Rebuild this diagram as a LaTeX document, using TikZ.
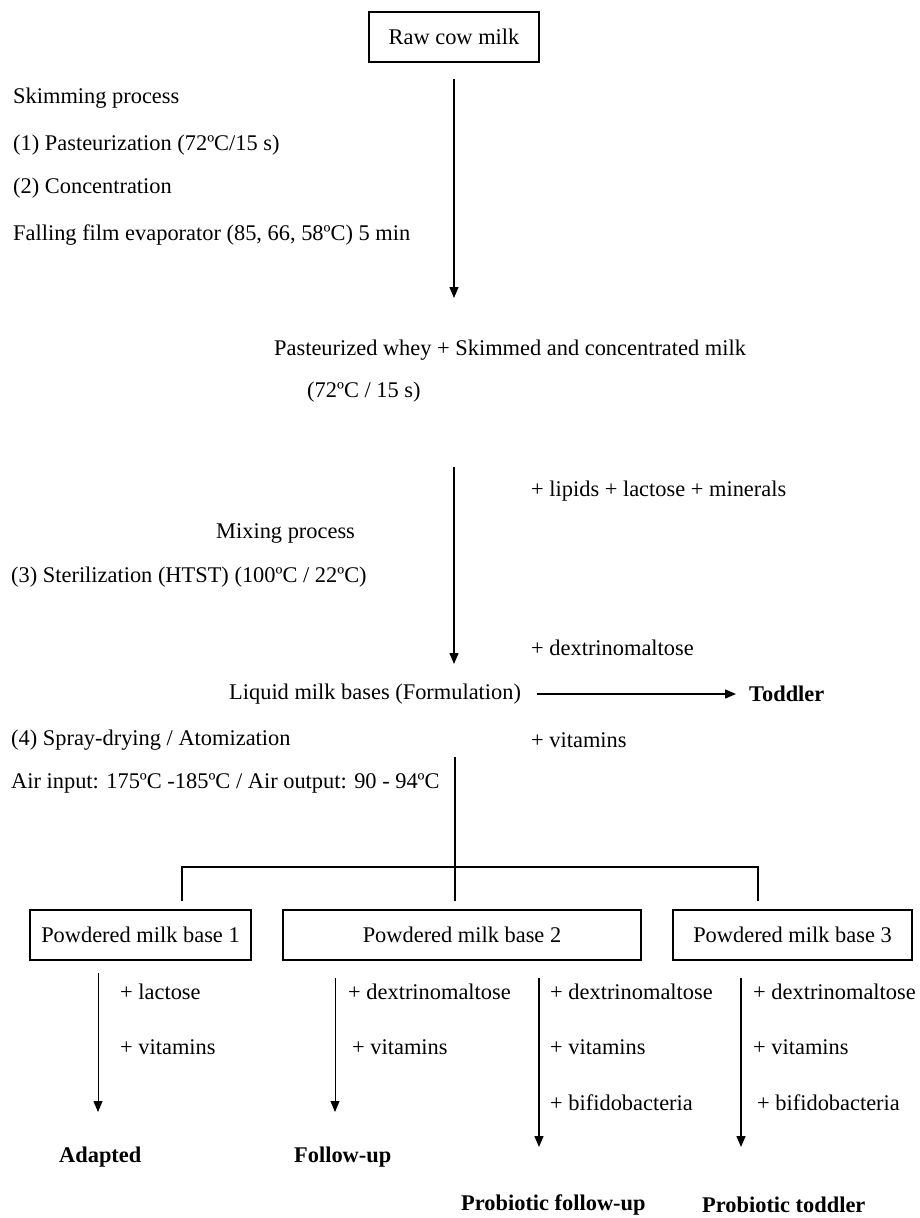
\documentclass[tikz,border=0pt]{standalone}
\usepackage{fontspec}
\setmainfont{Liberation Serif}
\usetikzlibrary{arrows.meta}

\begin{document}
\begin{tikzpicture}[x=1pt, y=-1pt,
  every node/.style={font=\fontsize{22.4}{26}\selectfont},
  txt/.style={anchor=west, inner sep=0pt},
  res/.style={txt, font=\fontsize{22.4}{26}\selectfont\bfseries},
  box/.style={draw, line width=1.8pt, minimum height=50pt, inner sep=0pt},
  flow/.style={line width=1.4pt, -{Triangle[length=11pt,width=9pt]}},
  thinflow/.style={flow, line width=0.9pt},
  link/.style={line width=1.3pt}]
  \useasboundingbox (0,0) rectangle (919,1218);

  % Raw milk and skimming
  \node[box, minimum width=170pt] (raw) at (454,37) {Raw cow milk};
  \node[txt] (skim) at (13,98)  {Skimming process};
  \node[txt] (past) at (13,145) {(1) Pasteurization (72ºC/15 s)};
  \node[txt] (conc) at (13,188) {(2) Concentration};
  \node[txt] (evap) at (13,235) {Falling film evaporator (85, 66, 58ºC) 5 min};
  \coordinate (t1) at (454,298);
  \draw[flow, shorten <=16pt] (raw) -- (t1);

  % Mixing
  \node[txt] (whey)  at (274,350) {Pasteurized whey + Skimmed and concentrated milk};
  \node[txt] (wheyT) at (307,392) {(72ºC / 15 s)};
  \coordinate (s2) at (454,467);
  \coordinate (t2) at (454,664);
  \draw[flow] (s2) -- (t2);
  \node[txt] (lip)  at (531,491) {+ lipids + lactose + minerals};
  \node[txt] (mix)  at (216,533) {Mixing process};
  \node[txt] (ster) at (11,577)  {(3) Sterilization (HTST) (100ºC / 22ºC)};
  \node[txt] (dex)  at (531,648) {+ dextrinomaltose};
  \node[txt] (liq)  at (229,694) {Liquid milk bases (Formulation)};
  \node[res] (tod)  at (749,694) {Toddler};
  \draw[flow, shorten <=16pt, shorten >=13pt] (liq) -- (tod);

  % Drying and split
  \node[txt] (spray) at (11,740)  {(4) Spray-drying / Atomization};
  \node[txt] (vit)   at (531,740) {+ vitamins};
  \node[txt] (air)   at (11,783)  {Air input: 175ºC -185ºC / Air output: 90 - 94ºC};
  \coordinate (s3) at (455,757);
  \coordinate (j)  at (455,867);
  \coordinate (d1) at (182,901);
  \coordinate (d2) at (455,901);
  \coordinate (d3) at (758,901);
  \draw[link] (s3) -- (d2);
  \draw[link] (d1) -- (d1 |- j) -- (d3 |- j) -- (d3);

  % Powdered bases
  \node[box, minimum width=221pt] (b1) at (140.5,935) {Powdered milk base 1};
  \node[box, minimum width=358pt] (b2) at (462,935)   {Powdered milk base 2};
  \node[box, minimum width=239pt] (b3) at (792.5,935) {Powdered milk base 3};

  % Final formulas
  \coordinate (a1) at (98,1112);
  \coordinate (a2) at (335,1112);
  \coordinate (a3) at (539,1147);
  \coordinate (a4) at (741,1147);
  \draw[thinflow, shorten <=12pt] (b1.south -| a1) -- (a1);
  \draw[thinflow, shorten <=17pt] (b2.south -| a2) -- (a2);
  \draw[flow, shorten <=17pt] (b2.south -| a3) -- (a3);
  \draw[flow, shorten <=17pt] (b3.south -| a4) -- (a4);

  \node[txt] (lac1) at (120,992)  {+ lactose};
  \node[txt] (vit1) at (120,1047) {+ vitamins};
  \node[txt] (dex2) at (348,992)  {+ dextrinomaltose};
  \node[txt] (vit2) at (352,1047) {+ vitamins};
  \node[txt] (dex3) at (550,992)  {+ dextrinomaltose};
  \node[txt] (vit3) at (550,1047) {+ vitamins};
  \node[txt] (bif3) at (550,1103) {+ bifidobacteria};
  \node[txt] (dex4) at (753,992)  {+ dextrinomaltose};
  \node[txt] (vit4) at (753,1047) {+ vitamins};
  \node[txt] (bif4) at (757,1103) {+ bifidobacteria};

  \node[res] (adap) at (59,1157)  {Adapted};
  \node[res] (fol)  at (294,1157) {Follow-up};
  \node[res] (pfol) at (461,1205) {Probiotic follow-up};
  \node[res] (ptod) at (702,1205) {Probiotic toddler};
\end{tikzpicture}
\end{document}
